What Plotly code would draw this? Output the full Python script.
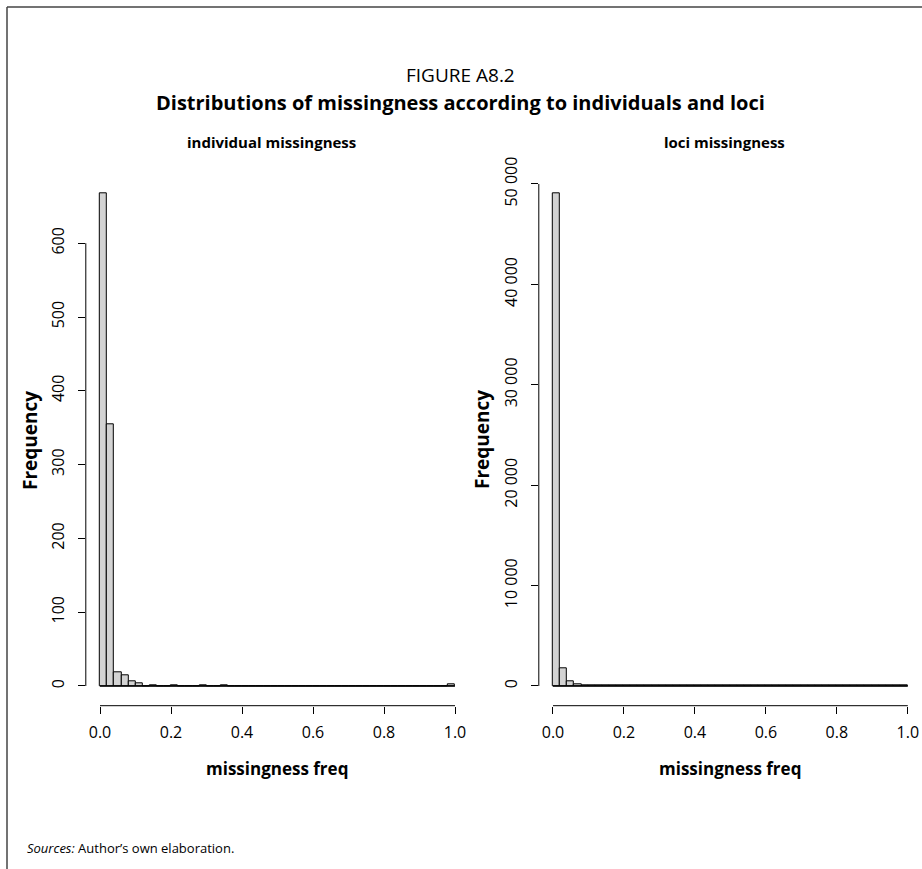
import plotly.graph_objects as go

W, H = 922, 869

# ---- data (50 bins of width 0.02 from 0 to 1) ----
bin_width = 0.02
bin_starts = [round(i * bin_width, 2) for i in range(50)]

individual_counts = [668, 355, 19, 14, 7, 3, 0, 1, 0, 0,
                     1, 0, 0, 0, 1, 0, 0, 1, 0, 0,
                     0, 0, 0, 0, 0, 0, 0, 0, 0, 0,
                     0, 0, 0, 0, 0, 0, 0, 0, 0, 0,
                     0, 0, 0, 0, 0, 0, 0, 0, 0, 2]

loci_counts = [49100, 1750, 420, 150, 90, 70, 60, 50, 45, 40,
               40, 35, 45, 50, 40, 35, 30, 30, 30, 30,
               25, 25, 25, 25, 25, 25, 25, 25, 25, 25,
               25, 25, 25, 25, 25, 25, 25, 25, 25, 25,
               25, 25, 25, 25, 25, 25, 30, 40, 90, 110]

x_tickvals = [0, 0.2, 0.4, 0.6, 0.8, 1.0]
x_ticktext = ["0.0", "0.2", "0.4", "0.6", "0.8", "1.0"]
left_yticks = [0, 100, 200, 300, 400, 500, 600]
left_yticktext = ["0", "100", "200", "300", "400", "500", "600"]
right_yticks = [0, 10000, 20000, 30000, 40000, 50000]
right_yticktext = ["0", "10 000", "20 000", "30 000", "40 000", "50 000"]

FONT = "Open Sans"

def px(x):
    return x / W

def py(y):
    return 1 - y / H

centers = [s + bin_width / 2 for s in bin_starts]

fig = go.Figure()
for counts, xa, ya in [(individual_counts, "x", "y"), (loci_counts, "x2", "y2")]:
    fig.add_trace(go.Bar(
        x=centers, y=counts, width=bin_width, xaxis=xa, yaxis=ya,
        marker=dict(color="#d3d3d3", line=dict(color="black", width=1)),
        showlegend=False, hoverinfo="skip"))

# plot regions (pixels)
top_px, bot_px = 173.3, 705.7
left_dom = [px(85.8), px(469.2)]
right_dom = [px(538.8), 1.0]
ydom = [py(bot_px), py(top_px)]

def yr(maxv):
    return [-0.04 * maxv, 1.04 * maxv]

ax_common = dict(showgrid=False, zeroline=False, showline=False, ticks="outside",
                 ticklen=7, tickwidth=1, tickcolor="black", automargin=False,
                 tickfont=dict(family=FONT, size=16, color="black"))

fig.update_layout(
    width=W, height=H, margin=dict(l=0, r=0, t=0, b=0, pad=0, autoexpand=False),
    paper_bgcolor="white", plot_bgcolor="white", bargap=0,
    xaxis=dict(domain=left_dom, range=[-0.04, 1.04], anchor="y",
               tickvals=x_tickvals, ticktext=x_ticktext, ticklabelstandoff=5, **ax_common),
    yaxis=dict(domain=ydom, range=yr(max(individual_counts)), anchor="x",
               tickvals=left_yticks, ticktext=left_yticktext, tickangle=-90,
               ticklabelstandoff=7, **ax_common),
    xaxis2=dict(domain=right_dom, range=[-0.04, 1.04], anchor="y2",
                tickvals=x_tickvals, ticktext=x_ticktext, ticklabelstandoff=5, **ax_common),
    yaxis2=dict(domain=ydom, range=yr(max(loci_counts)), anchor="x2",
                tickvals=right_yticks, ticktext=right_yticktext, tickangle=-90,
                ticklabelstandoff=7, **ax_common),
)

shapes = []
# axis lines spanning tick range (R style)
for xa, ya, ymax in [("x", "y", 600), ("x2", "y2", 50000)]:
    shapes.append(dict(type="line", xref=xa, yref=ya + " domain", x0=0, x1=1, y0=0, y1=0,
                       line=dict(color="black", width=1)))
    shapes.append(dict(type="line", xref=xa + " domain", yref=ya, x0=0, x1=0, y0=0, y1=ymax,
                       line=dict(color="black", width=1)))
    # histogram baseline
    shapes.append(dict(type="line", xref=xa, yref=ya, x0=0, x1=1, y0=0, y1=0,
                       line=dict(color="black", width=1.5)))
# frame
shapes.append(dict(type="line", xref="paper", yref="paper", x0=px(7), x1=1.0, y0=py(7), y1=py(7),
                   line=dict(color="#444444", width=1.5)))
shapes.append(dict(type="line", xref="paper", yref="paper", x0=px(7), x1=px(7), y0=py(7), y1=0,
                   line=dict(color="#444444", width=1.5)))
fig.update_layout(shapes=shapes)

def ann(text, x, y, size, bold=False, angle=0, xanchor="center"):
    return dict(text=("<b>%s</b>" % text) if bold else text, x=px(x), y=py(y),
                xref="paper", yref="paper", showarrow=False, textangle=angle,
                xanchor=xanchor, yanchor="middle",
                font=dict(family=FONT, size=size, color="black"))

annotations = [
    ann("FIGURE A8.2", 460, 75, 19),
    ann("Distributions of missingness according to individuals and loci", 460, 103, 20, bold=True),
    ann("individual missingness", 271, 142, 15, bold=True),
    ann("loci missingness", 724, 142, 15, bold=True),
    ann("missingness freq", 277, 768, 17, bold=True),
    ann("missingness freq", 730, 768, 17, bold=True),
    ann("Frequency", 30, 440, 19, bold=True, angle=-90),
    ann("Frequency", 482, 440, 19, bold=True, angle=-90),
    ann("<i>Sources:</i> Author\u2019s own elaboration.", 25, 848, 13, xanchor="left"),
]
fig.update_layout(annotations=annotations)

fig.write_html("out.html")
